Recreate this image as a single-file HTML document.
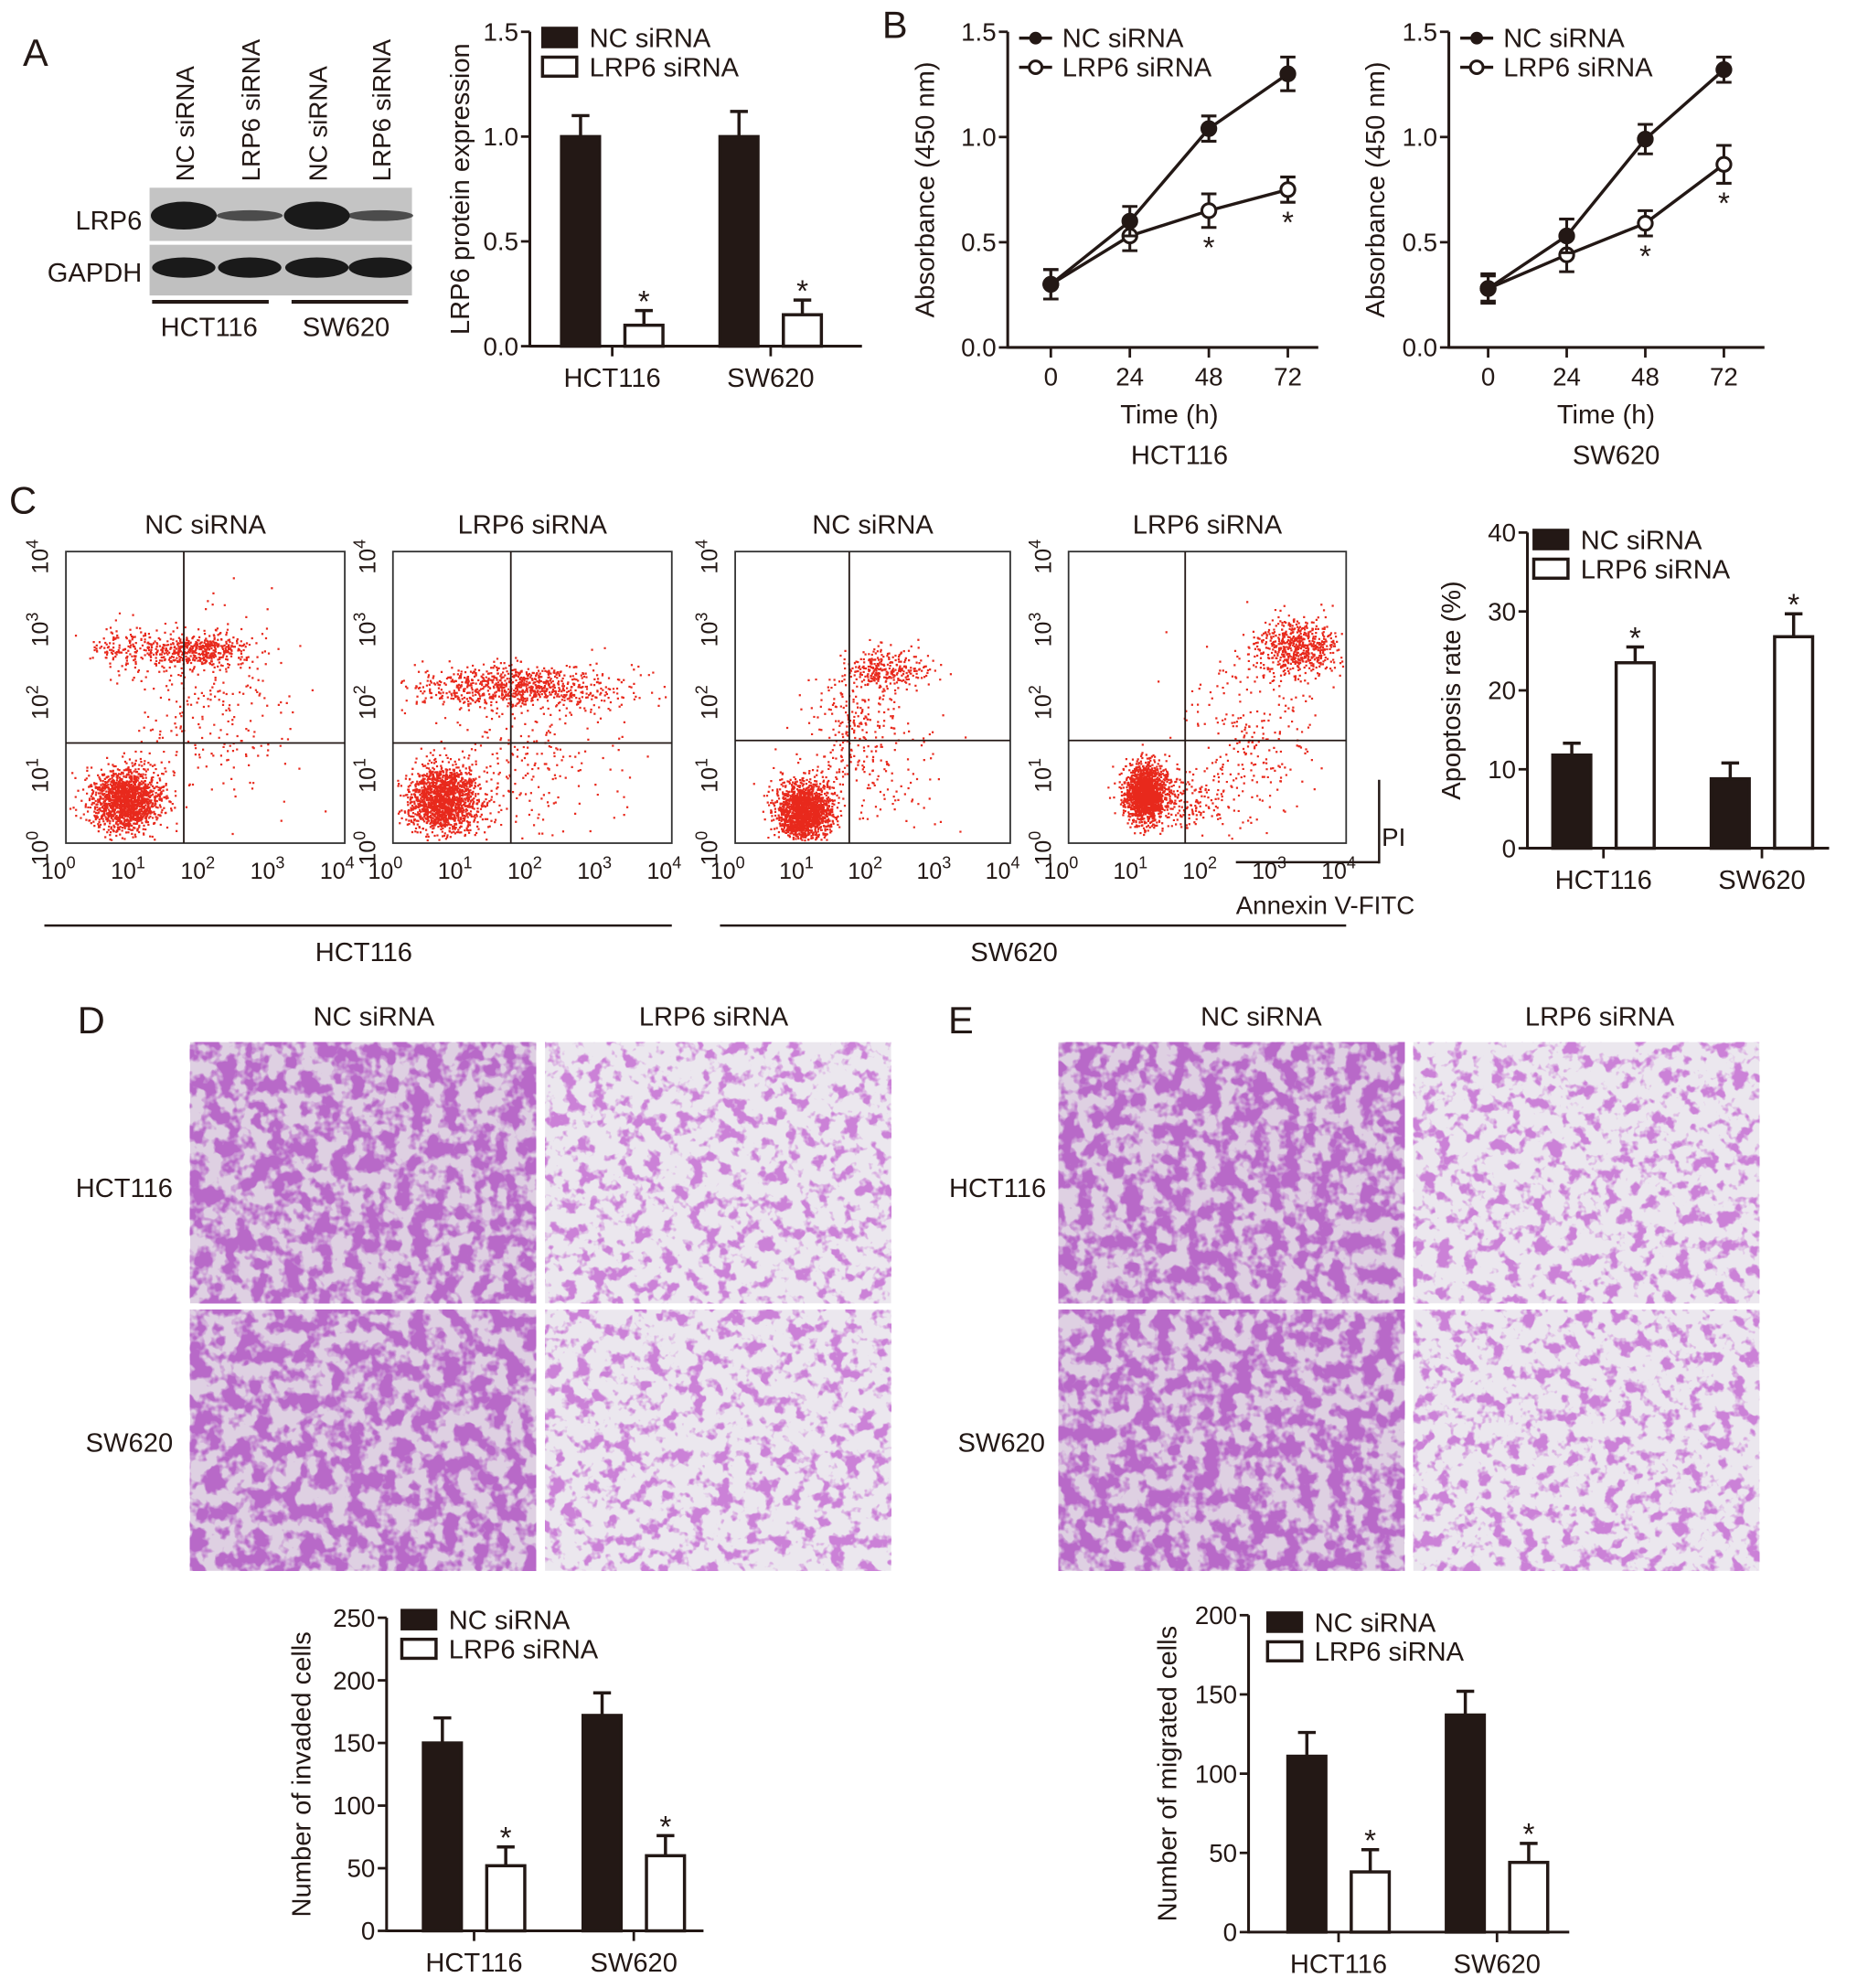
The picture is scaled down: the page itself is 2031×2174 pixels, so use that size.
<!DOCTYPE html>
<html><head><meta charset="utf-8"><style>
html,body{margin:0;padding:0;background:#fff;}
svg{display:block;font-family:"Liberation Sans",Arial,sans-serif;}
</style></head><body>
<svg id="fig" width="2031" height="2174" viewBox="0 0 1465 1568" xmlns="http://www.w3.org/2000/svg">
<defs>
<filter id="dense" x="0" y="0" width="100%" height="100%">
<feTurbulence type="fractalNoise" baseFrequency="0.08" numOctaves="3" seed="3"/>
<feColorMatrix type="matrix" values="0 0 0 0 0.48  0 0 0 0 0.14  0 0 0 0 0.58  6 0 0 0 -2.5"/>
</filter>
<filter id="light" x="0" y="0" width="100%" height="100%">
<feTurbulence type="fractalNoise" baseFrequency="0.09" numOctaves="3" seed="7"/>
<feColorMatrix type="matrix" values="0 0 0 0 0.6  0 0 0 0 0.22  0 0 0 0 0.68  7 0 0 0 -3.6"/>
</filter>
</defs>
<g id="root"></g>
</svg>
<script>
// ---------- data ----------
const barCats = ['HCT116','SW620'];
const aNC = [1.0, 1.0], aNCerr = [0.1, 0.12], aLRP = [0.1, 0.15], aLRPerr = [0.07, 0.07];
const bTimes = [0, 24, 48, 72];
const bTickLabels = ['0','24','48','72'];
const b1NC = [0.3, 0.6, 1.04, 1.3], b1NCerr = [0.07, 0.07, 0.06, 0.08];
const b1LRP = [0.3, 0.53, 0.65, 0.75], b1LRPerr = [0.07, 0.07, 0.08, 0.06];
const b2NC = [0.28, 0.53, 0.99, 1.32], b2NCerr = [0.07, 0.08, 0.07, 0.06];
const b2LRP = [0.28, 0.44, 0.59, 0.87], b2LRPerr = [0.06, 0.08, 0.06, 0.09];
const cNC = [11.8, 8.8], cNCerr = [1.5, 2.0], cLRP = [23.5, 26.8], cLRPerr = [2.0, 2.9];
const dNC = [150, 172], dNCerr = [20, 18], dLRP = [52, 60], dLRPerr = [15, 16];
const eNC = [111, 137], eNCerr = [15, 15], eLRP = [38, 44], eLRPerr = [14, 12];
// flow clusters: [logX center, logY center, sdX, sdY, count] in decades
const flow1 = [[0.85,0.6,0.25,0.22,1600],[1.9,2.65,0.35,0.12,450],[0.9,2.7,0.3,0.15,180],[2.1,1.8,0.6,0.6,250]];
const flow2 = [[0.7,0.6,0.25,0.22,1600],[1.8,2.15,0.75,0.15,900],[1.8,1.0,0.7,0.5,250]];
const flow3 = [[1.0,0.45,0.2,0.2,1700],[2.2,2.4,0.3,0.15,300],[1.7,1.6,0.3,0.4,200],[2.0,1.0,0.6,0.5,120]];
const flow4 = [[1.1,0.7,0.15,0.2,1600],[3.3,2.7,0.3,0.2,600],[2.6,1.5,0.5,0.6,250],[1.6,0.6,0.4,0.2,200]];
// ---------- helpers ----------
const NS='http://www.w3.org/2000/svg';
const root=document.getElementById('root');
function mk(tag,attrs,parent,text){const e=document.createElementNS(NS,tag);for(const k in attrs)e.setAttribute(k,attrs[k]);if(text!==undefined)e.textContent=text;(parent||root).appendChild(e);return e;}
function txt(x,y,s,size,name,anchor,rot,parent){
  const t=mk('text',{x:x,y:y,'font-size':size,'text-anchor':anchor||'middle',fill:'#231815'},parent,s);
  if(rot)t.setAttribute('transform','rotate('+rot+' '+x+' '+y+')');
  
  
  return t;}
function line(x1,y1,x2,y2,w,parent){return mk('line',{x1:x1,y1:y1,x2:x2,y2:y2,stroke:'#231815','stroke-width':w||2.2},parent);}
const DARK='#231815';
// panel letters
[['A',28,52],['B',706,30],['C',18,405],['D',72,815],['E',758,815]].forEach(p=>{txt(p[1],p[2],p[0],30,'panel-label-'+p[0].toLowerCase(),'middle',0);});

function barChart(o){
  const g=mk('g',{});
  const ys=v=>o.yBot-(v/o.max)*(o.yBot-o.yTop);
  line(o.x0,o.yTop,o.x0,o.yBot+1,2.2,g);
  line(o.x0,o.yBot,o.xEnd,o.yBot,2.2,g);
  o.ticks.forEach((t,i)=>{line(o.x0-7,ys(t),o.x0,ys(t),2,g);txt(o.x0-9,ys(t)+7,o.tickLabels[i],20,'y-tick-label','end',0,g);});
  barCats.forEach((c,i)=>{
    const cx=o.centers[i];
    line(cx,o.yBot,cx,o.yBot+8,2,g);
    txt(cx,o.yBot+32,c,21,'x-category-label','middle',0,g);
    [[o.nc,o.ncErr,-o.off,'nc'],[o.lrp,o.lrpErr,o.off,'lrp']].forEach(s=>{
      const v=s[0][i],e=s[1][i],bx=cx+s[2]-o.bw/2;
      const r=mk('rect',{x:bx,y:ys(v),width:o.bw,height:o.yBot-ys(v),fill:s[3]=='nc'?DARK:'#fff',stroke:DARK,'stroke-width':2.5},g);
      
      line(bx+o.bw/2,ys(v),bx+o.bw/2,ys(v+e),2.5,g);line(bx+o.bw/2-7,ys(v+e),bx+o.bw/2+7,ys(v+e),2.5,g);
      if(s[3]=='lrp')txt(bx+o.bw/2,ys(v+e)+1,'*',24,'significance-star','middle',0,g);
    });
  });
  txt(o.ylx,(o.yTop+o.yBot)/2,o.ylabel,21,'y-axis-title','middle',-90,g);
  const lg=mk('g',{},g);
  mk('rect',{x:o.lx,y:o.ly,width:27,height:15,fill:DARK,stroke:DARK,'stroke-width':2},lg);
  txt(o.lx+37,o.ly+15,'NC siRNA',21,'legend-entry-nc','start',0,lg);
  mk('rect',{x:o.lx,y:o.ly+23,width:27,height:15,fill:'#fff',stroke:DARK,'stroke-width':2.5},lg);
  txt(o.lx+37,o.ly+38,'LRP6 siRNA',21,'legend-entry-lrp6','start',0,lg);
}
barChart({name:'chart-a-lrp6-expression',x0:418,xEnd:680,yTop:25,yBot:273,max:1.5,ticks:[0,0.5,1,1.5],tickLabels:['0.0','0.5','1.0','1.5'],centers:[483,608],off:25,bw:30,nc:aNC,ncErr:aNCerr,lrp:aLRP,lrpErr:aLRPerr,ylabel:'LRP6 protein expression',ylx:370,lx:428,ly:22});
barChart({name:'chart-c-apoptosis',x0:1205,xEnd:1443,yTop:420,yBot:669,max:40,ticks:[0,10,20,30,40],tickLabels:['0','10','20','30','40'],centers:[1265,1390],off:25,bw:30,nc:cNC,ncErr:cNCerr,lrp:cLRP,lrpErr:cLRPerr,ylabel:'Apoptosis rate (%)',ylx:1152,lx:1210,ly:418});
barChart({name:'chart-d-invaded',x0:305,xEnd:555,yTop:1276,yBot:1523,max:250,ticks:[0,50,100,150,200,250],tickLabels:['0','50','100','150','200','250'],centers:[374,500],off:25,bw:30,nc:dNC,ncErr:dNCerr,lrp:dLRP,lrpErr:dLRPerr,ylabel:'Number of invaded cells',ylx:245,lx:317,ly:1270});
barChart({name:'chart-e-migrated',x0:985,xEnd:1238,yTop:1274,yBot:1524,max:200,ticks:[0,50,100,150,200],tickLabels:['0','50','100','150','200'],centers:[1056,1181],off:25,bw:30,nc:eNC,ncErr:eNCerr,lrp:eLRP,lrpErr:eLRPerr,ylabel:'Number of migrated cells',ylx:928,lx:1000,ly:1272});

// western blot
(function(){
  const g=mk('g',{});
  mk('rect',{x:118,y:148,width:207,height:42,fill:'#c4c4c4'},g);
  mk('rect',{x:118,y:193,width:207,height:40,fill:'#c0c0c0'},g);
  const lanes=[145,197,250,300];
  const lrpW=[1,0.25,1,0.25];
  lanes.forEach((x,i)=>{
    mk('ellipse',{cx:x,cy:170,rx:26,ry:9*lrpW[i]+2,fill:'#1a1a1a',opacity:lrpW[i]<1?0.7:1},g);
    mk('ellipse',{cx:x,cy:211,rx:25,ry:8,fill:'#1a1a1a'},g);
  });
  ['NC siRNA','LRP6 siRNA','NC siRNA','LRP6 siRNA'].forEach((s,i)=>txt(lanes[i]+8,143,s,20,'lane-label','start',-90,g));
  txt(112,181,'LRP6',21,'band-label-lrp6','end',0,g);
  txt(112,222,'GAPDH',21,'band-label-gapdh','end',0,g);
  line(120,238,212,238,3,g);line(230,238,322,238,3,g);
  txt(165,265,'HCT116',21,'cell-line-label','middle',0,g);
  txt(273,265,'SW620',21,'cell-line-label','middle',0,g);
})();

// line charts B
function lineChart(o){
  const g=mk('g',{});
  const ys=v=>o.yBot-(v/1.5)*(o.yBot-o.yTop);
  const xs=t=>o.xa+(t/72)*(o.xb-o.xa);
  line(o.x0,o.yTop,o.x0,o.yBot+1,2.2,g);line(o.x0,o.yBot,o.xEnd,o.yBot,2.2,g);
  [0,0.5,1,1.5].forEach((t,i)=>{line(o.x0-7,ys(t),o.x0,ys(t),2,g);txt(o.x0-9,ys(t)+7,['0.0','0.5','1.0','1.5'][i],20,'y-tick-label','end',0,g);});
  bTimes.forEach((t,i)=>{line(xs(t),o.yBot,xs(t),o.yBot+8,2,g);txt(xs(t),o.yBot+30,bTickLabels[i],20,'x-tick-label','middle',0,g);});
  [[o.lrp,o.lrpErr,'#fff','lrp'],[o.nc,o.ncErr,DARK,'nc']].forEach(s=>{
    const pts=bTimes.map((t,i)=>xs(t)+','+ys(s[0][i])).join(' ');
    const pl=mk('polyline',{points:pts,fill:'none',stroke:DARK,'stroke-width':2.5},g);
    
    bTimes.forEach((t,i)=>{
      const x=xs(t),v=s[0][i],e=s[1][i];
      line(x,ys(v-e),x,ys(v+e),2.2,g);line(x-6,ys(v+e),x+6,ys(v+e),2.2,g);line(x-6,ys(v-e),x+6,ys(v-e),2.2,g);
      const c=mk('circle',{cx:x,cy:ys(v),r:5.5,fill:s[2],stroke:DARK,'stroke-width':2.2},g);
      
      if(s[3]=='lrp'&&t>=48)txt(x,ys(v-e)+24,'*',24,'significance-star','middle',0,g);
    });
  });
  txt(o.ylx,(o.yTop+o.yBot)/2,'Absorbance (450 nm)',21,'y-axis-title','middle',-90,g);
  txt((o.xa+o.xb)/2,o.yBot+60,'Time (h)',21,'x-axis-title','middle',0,g);
  txt((o.xa+o.xb)/2+8,o.yBot+92,o.cell,21,'cell-line-label','middle',0,g);
  line(o.lx,30,o.lx+26,30,2.5,g);mk('circle',{cx:o.lx+13,cy:30,r:5,fill:DARK},g);
  txt(o.lx+34,37,'NC siRNA',21,'legend-entry-nc','start',0,g);
  line(o.lx,53,o.lx+26,53,2.5,g);mk('circle',{cx:o.lx+13,cy:53,r:5,fill:'#fff',stroke:DARK,'stroke-width':2.2},g);
  txt(o.lx+34,60,'LRP6 siRNA',21,'legend-entry-lrp6','start',0,g);
}
lineChart({name:'chart-b-hct116',x0:795,xEnd:1040,yTop:25,yBot:274,xa:829,xb:1016,nc:b1NC,ncErr:b1NCerr,lrp:b1LRP,lrpErr:b1LRPerr,ylx:737,cell:'HCT116',lx:804});
lineChart({name:'chart-b-sw620',x0:1143,xEnd:1392,yTop:25,yBot:274,xa:1174,xb:1360,nc:b2NC,ncErr:b2NCerr,lrp:b2LRP,lrpErr:b2LRPerr,ylx:1092,cell:'SW620',lx:1152});

// flow cytometry
let seed=12345;
function rnd(){seed|=0;seed=seed+0x6D2B79F5|0;let t=Math.imul(seed^seed>>>15,1|seed);t=t+Math.imul(t^t>>>7,61|t)^t;return((t^t>>>14)>>>0)/4294967296;}
function gauss(){return Math.sqrt(-2*Math.log(rnd()+1e-9))*Math.cos(2*Math.PI*rnd());}
function flowPlot(o){
  const g=mk('g',{});
  const W=o.x1-o.x0,H=o.y1-o.y0;
  const xs=d=>o.x0+d/4*W, ys=d=>o.y1-d/4*H;
  let d='';
  o.clusters.forEach(c=>{for(let k=0;k<c[4];k++){let lx=c[0]+c[2]*gauss(),ly=c[1]+c[3]*gauss();if(lx<0.05||lx>3.95||ly<0.05||ly>3.95)continue;const x=xs(lx),y=ys(ly);d+='M'+x.toFixed(1)+' '+y.toFixed(1)+'h1.6v1.6h-1.6z';}});
  const p=mk('path',{d:d,fill:'#e8291c'},g);
  mk('rect',{x:o.x0,y:o.y0,width:W,height:H,fill:'none',stroke:'#333','stroke-width':1.3},g);
  line(o.qx,o.y0,o.qx,o.y1,1.3,g);line(o.x0,o.qy,o.x1,o.qy,1.3,g);
  for(let i=0;i<=4;i++){
    const tx=mk('text',{x:xs(i)-6,y:o.y1+28,'font-size':18,'text-anchor':'middle',fill:DARK},g);
    tx.innerHTML='10<tspan dy="-8" font-size="13">'+i+'</tspan>';
    const ty=mk('text',{x:o.x0-14,y:ys(i)+4,'font-size':18,'text-anchor':'middle',fill:DARK,transform:'rotate(-90 '+(o.x0-14)+' '+(ys(i)+4)+')'},g);
    ty.innerHTML='10<tspan dy="-8" font-size="13">'+i+'</tspan>';
  }
  txt((o.x0+o.x1)/2,421,o.title,21,'plot-title','middle',0,g);
}
flowPlot({name:'flow-hct116-nc',x0:52,x1:272,y0:435,y1:665,qx:145,qy:586,clusters:flow1,title:'NC siRNA'});
flowPlot({name:'flow-hct116-lrp6',x0:310,x1:530,y0:435,y1:665,qx:403,qy:586,clusters:flow2,title:'LRP6 siRNA'});
flowPlot({name:'flow-sw620-nc',x0:580,x1:797,y0:435,y1:665,qx:670,qy:584,clusters:flow3,title:'NC siRNA'});
flowPlot({name:'flow-sw620-lrp6',x0:843,x1:1062,y0:435,y1:665,qx:935,qy:584,clusters:flow4,title:'LRP6 siRNA'});
line(1088,615,1088,681,1.8);line(975,680,1088,680,1.8);
txt(1090,667,'PI',20,'axis-title-pi','start',0);
txt(975,721,'Annexin V-FITC',20,'axis-title-annexin','start',0);
line(35,730,530,730,1.8);line(568,730,1062,730,1.8);
txt(287,758,'HCT116',21,'group-label-hct116','middle',0);
txt(800,758,'SW620',21,'group-label-sw620','middle',0);

// micrographs
function micro(x,y,dense,name){
  const g=mk('g',{});
  mk('rect',{x:x,y:y,width:273,height:206,fill:dense?'#ded0e2':'#ebe7ee'},g);
  mk('rect',{x:x,y:y,width:273,height:206,filter:dense?'url(#dense)':'url(#light)'},g);
}
micro(150,822,1,'image-d-hct116-nc');micro(430,822,0,'image-d-hct116-lrp6');
micro(150,1033,1,'image-d-sw620-nc');micro(430,1033,0,'image-d-sw620-lrp6');
micro(835,822,1,'image-e-hct116-nc');micro(1115,822,0,'image-e-hct116-lrp6');
micro(835,1033,1,'image-e-sw620-nc');micro(1115,1033,0,'image-e-sw620-lrp6');
txt(295,809,'NC siRNA',21,'column-label','middle',0);txt(563,809,'LRP6 siRNA',21,'column-label','middle',0);
txt(995,809,'NC siRNA',21,'column-label','middle',0);txt(1262,809,'LRP6 siRNA',21,'column-label','middle',0);
txt(98,944,'HCT116',21,'row-label','middle',0);txt(102,1145,'SW620',21,'row-label','middle',0);
txt(787,944,'HCT116',21,'row-label','middle',0);txt(790,1145,'SW620',21,'row-label','middle',0);
</script>
</body></html>
